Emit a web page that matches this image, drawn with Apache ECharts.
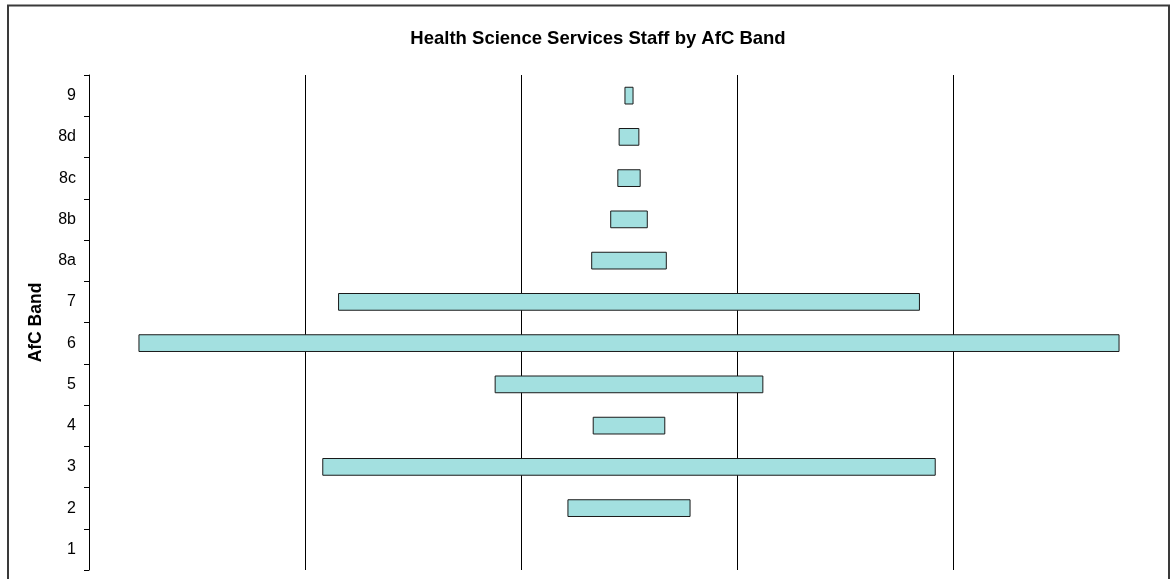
<!DOCTYPE html>
<html>
<head>
<meta charset="utf-8">
<script src="https://cdn.jsdelivr.net/npm/echarts@6/dist/echarts.min.js"></script>
<style>
  html, body { margin: 0; padding: 0; background: #ffffff; }
  #chart { width: 1171px; height: 579px; }
</style>
</head>
<body>
<div id="chart"></div>
<script>
// AfC bands, bottom to top
const bands = ['1', '2', '3', '4', '5', '6', '7', '8a', '8b', '8c', '8d', '9'];
// Staff in each band
const staff = [0, 28.5, 142, 16.8, 62.2, 227.1, 134.7, 17.5, 8.7, 5.4, 4.8, 2.1];
// Horizontal scale span (bars are centred in it)
const axisMax = 250;
const axisStep = 50;

// Transparent spacer so each bar sits centred on the axis
const spacer = staff.map(v => (axisMax - v) / 2);

const chart = echarts.init(document.getElementById('chart'), null, { renderer: 'canvas' });

chart.setOption({
  animation: false,
  backgroundColor: '#ffffff',
  title: {
    text: 'Health Science Services Staff by AfC Band',
    left: 593,
    textAlign: 'center',
    top: 24,
    textStyle: {
      fontFamily: 'Liberation Sans, Arial, sans-serif',
      fontSize: 18.5,
      fontWeight: 'bold',
      color: '#000000'
    }
  },
  grid: { left: 89, top: 75, width: 1080, height: 495, containLabel: false },
  xAxis: {
    type: 'value',
    min: 0,
    max: axisMax,
    interval: axisStep,
    axisLine: { show: false },
    axisTick: { show: false },
    axisLabel: { show: false },
    splitLine: { show: true, lineStyle: { color: '#000000', width: 1 } }
  },
  yAxis: {
    type: 'category',
    data: bands,
    name: 'AfC Band',
    nameLocation: 'middle',
    nameGap: 44,
    nameRotate: 90,
    nameTextStyle: {
      fontFamily: 'Liberation Sans, Arial, sans-serif',
      fontSize: 17.5,
      fontWeight: 'bold',
      color: '#000000'
    },
    axisLine: { show: true, lineStyle: { color: '#000000', width: 1 } },
    axisTick: { show: true, length: 5, lineStyle: { color: '#000000' } },
    axisLabel: {
      margin: 13,
      fontFamily: 'Liberation Sans, Arial, sans-serif',
      fontSize: 16,
      color: '#000000'
    },
    splitLine: { show: false }
  },
  series: [
    {
      type: 'bar',
      stack: 'band',
      data: spacer,
      itemStyle: { color: 'rgba(0,0,0,0)' },
      barWidth: '43%',
      silent: true
    },
    {
      type: 'bar',
      stack: 'band',
      barWidth: '43%',
      data: staff.map(v => ({
        value: v,
        itemStyle: v > 0
          ? { color: '#a3e0e0', borderColor: '#1a1a1a', borderWidth: 1 }
          : { color: 'rgba(0,0,0,0)', borderWidth: 0 }
      }))
    }
  ],
  graphic: [
    {
      type: 'rect',
      shape: { x: 8, y: 5.5, width: 1161, height: 620 },
      style: { fill: 'none', stroke: '#3a3a3a', lineWidth: 2 },
      z: 100,
      silent: true
    }
  ]
});
</script>
</body>
</html>
